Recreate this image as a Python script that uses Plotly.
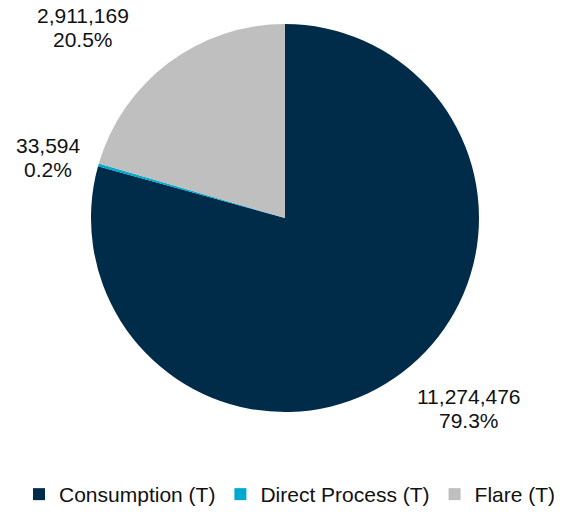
import plotly.graph_objects as go

# Emissions by source (tonnes)
categories = ["Consumption (T)", "Direct Process (T)", "Flare (T)"]
values = [11274476, 33594, 2911169]
colors = ["#002B49", "#00A9CE", "#BFBFBF"]

W, H = 568, 515
FONT = "Liberation Sans, Arial, sans-serif"
LINE = 24  # spacing between the value line and the percent line

def px_x(px):
    return px / W

def px_y(py):
    return (H - py) / H

total = sum(values)
# label anchor points (pixels) for each slice's value/percent text
label_pos = {
    "Consumption (T)": (469, 408),
    "Direct Process (T)": (48, 157),
    "Flare (T)": (83, 28),
}

# pie circle: centre (285, 218), radius 194
cx, cy, r = 285, 218, 194

fig = go.Figure(go.Pie(
    labels=categories,
    values=values,
    marker=dict(colors=colors, line=dict(width=0)),
    sort=False,
    direction="clockwise",
    rotation=0,
    textinfo="none",
    hoverinfo="label+value+percent",
    domain=dict(x=[px_x(cx - r), px_x(cx + r)], y=[px_y(cy + r), px_y(cy - r)]),
))

for cat, val in zip(categories, values):
    lx, ly = label_pos[cat]
    lines = [f"{val:,}", f"{val / total * 100:.1f}%"]
    for i, txt in enumerate(lines):
        fig.add_annotation(
            x=px_x(lx), y=px_y(ly + (i - 0.5) * LINE), xref="paper", yref="paper",
            text=txt,
            showarrow=False, xanchor="center", yanchor="middle",
            font=dict(family=FONT, size=21, color="#111111"),
        )

fig.update_layout(
    width=W, height=H,
    margin=dict(l=0, r=0, t=0, b=0),
    paper_bgcolor="white", plot_bgcolor="white",
    font=dict(family=FONT, size=21, color="#111111"),
    showlegend=True,
    legend=dict(
        orientation="h",
        x=px_x(290), xanchor="center",
        y=0.0, yanchor="bottom",
        font=dict(size=21), itemwidth=30, traceorder="normal",
        bgcolor="rgba(0,0,0,0)",
    ),
)

fig.write_html("out.html")
